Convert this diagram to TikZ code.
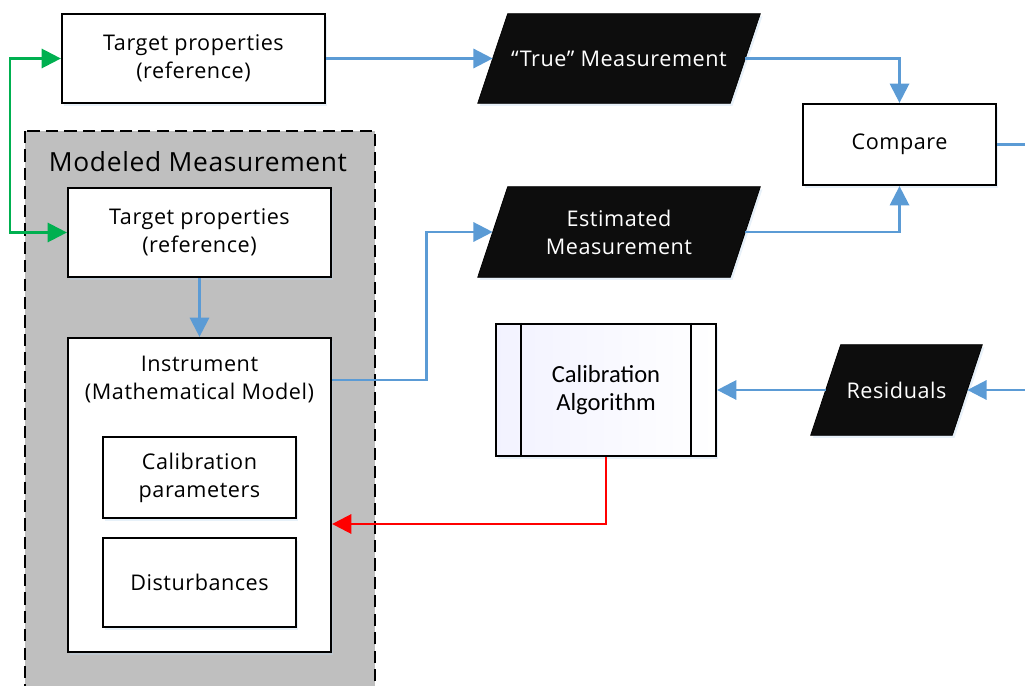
\documentclass[tikz,border=0pt]{standalone}
\usepackage{fontspec}
\setmainfont{Open Sans}[LetterSpace=2.5]
\newfontfamily\calibrifont{Carlito}
\usetikzlibrary{arrows.meta,positioning,calc,shadows,backgrounds}
\definecolor{flowblue}{HTML}{5B9BD5}
\definecolor{linkgreen}{HTML}{00B050}
\definecolor{regiongray}{HTML}{BFBFBF}
\tikzset{
    box/.style={draw=black,fill=white,line width=1.3pt,align=center,
        font=\fontsize{12.3}{16}\selectfont,
        drop shadow={shadow xshift=1.2pt,shadow yshift=-1.5pt,fill=flowblue!40,opacity=.35}},
    data node/.style={align=center,text=white,inner sep=0pt,
        font=\fontsize{12.3}{16}\selectfont},
    data fill/.style={fill=black!95,draw=black,
        drop shadow={shadow xshift=1.2pt,shadow yshift=-1.5pt,fill=flowblue!40,opacity=.35}},
    tip/.style={-{Triangle[length=11pt,width=11pt]}},
    flow/.style={tip,draw=flowblue,line width=1.4pt},
    feedback/.style={tip,draw=red,line width=1.4pt},
    link/.style={{Triangle[length=11pt,width=11pt]}-{Triangle[length=11pt,width=11pt]},draw=linkgreen,line width=1.4pt},
    modeled region/.style={fill=regiongray,draw=black,line width=1.1pt,dash pattern=on 7pt off 3.5pt},
}
\newcommand{\dataslant}[2]{% parallelogram behind a data node
    \fill[data fill] ($(#1.south west)+(-#2,0)$) -- ($(#1.south east)+(-#2,0)$)
        -- ($(#1.north east)+(#2,0)$) -- ($(#1.north west)+(#2,0)$) -- cycle;}

\begin{document}
\begin{tikzpicture}[x=0.02cm,y=-0.02cm]
    \useasboundingbox (0,0) rectangle (1025,686);

    % modeled measurement region
    \draw[modeled region] (25,131) rectangle (375,720);
    \node[font=\fontsize{15}{18}\selectfont] (modeled title) at (198,162) {Modeled Measurement};

    \node[box,minimum width=5.26cm,minimum height=1.78cm] (target ref) at (193.5,58.5)
        {Target properties\\(reference)};
    \node[box,minimum width=5.26cm,minimum height=1.78cm] (target model) at (199.5,232.5)
        {Target properties\\(reference)};
    \node[box,minimum width=5.26cm,minimum height=6.28cm] (instrument) at (199.5,495) {};
    \node[align=center,font=\fontsize{12.3}{16}\selectfont] (instrument label)
        at ($(instrument.north)+(0,43)$) {Instrument\\(Mathematical Model)};
    \node[box,minimum width=3.86cm,minimum height=1.62cm] (calib params) at (199.5,477.5)
        {Calibration\\parameters};
    \node[box,minimum width=3.86cm,minimum height=1.78cm] (disturbances) at (199.5,582.5)
        {Disturbances};

    \node[box,minimum width=3.86cm,minimum height=1.62cm] (compare) at (899.5,144.5) {Compare};

    \node[box,minimum width=4.4cm,minimum height=2.64cm,
        font=\calibrifont\fontsize{14}{16.4}\selectfont,
        left color=blue!5,right color=white] (calib algo) at (606,390)
        {Calibration\\Algorithm};
    \draw[line width=1.3pt] ([xshift=0.52cm]calib algo.north west) -- ([xshift=0.52cm]calib algo.south west)
        ([xshift=-0.52cm]calib algo.north east) -- ([xshift=-0.52cm]calib algo.south east);

    % data nodes
    \node[data node,minimum width=5.04cm,minimum height=1.78cm] (true meas) at (619,58.5)
        {“True” Measurement};
    \node[data node,minimum width=5.04cm,minimum height=1.8cm] (est meas) at (619,232)
        {Estimated\\Measurement};
    \node[data node,minimum width=2.82cm,minimum height=1.8cm] (residuals) at (896.5,390)
        {Residuals};
    \begin{scope}[on background layer]
        \dataslant{true meas}{15}
        \dataslant{est meas}{15}
        \dataslant{residuals}{15}
    \end{scope}

    \coordinate (compare out) at (1035,144.5);
    \coordinate (residuals in) at (1035,390);

    % connectors
    \draw[link] (target ref.west) -- ++(-51,0) |- (target model.west);
    \draw[flow] (target ref.east) -- (true meas.west);
    \draw[flow] (target model.south) -- (instrument.north);
    \draw[flow] ([yshift=-0.86cm]instrument.north east) -| ([xshift=-1.32cm]est meas.west) -- (est meas.west);
    \draw[flow] (true meas.east) -| (compare.north);
    \draw[flow] (est meas.east) -| (compare.south);
    \draw[flow,-] (compare.east) -- (compare out);
    \draw[flow] (residuals in) -- (residuals.east);
    \draw[flow] (residuals.west) -- (calib algo.east);
    \draw[feedback] (calib algo.south) |- ([yshift=-0.58cm]instrument.east);
\end{tikzpicture}
\end{document}
